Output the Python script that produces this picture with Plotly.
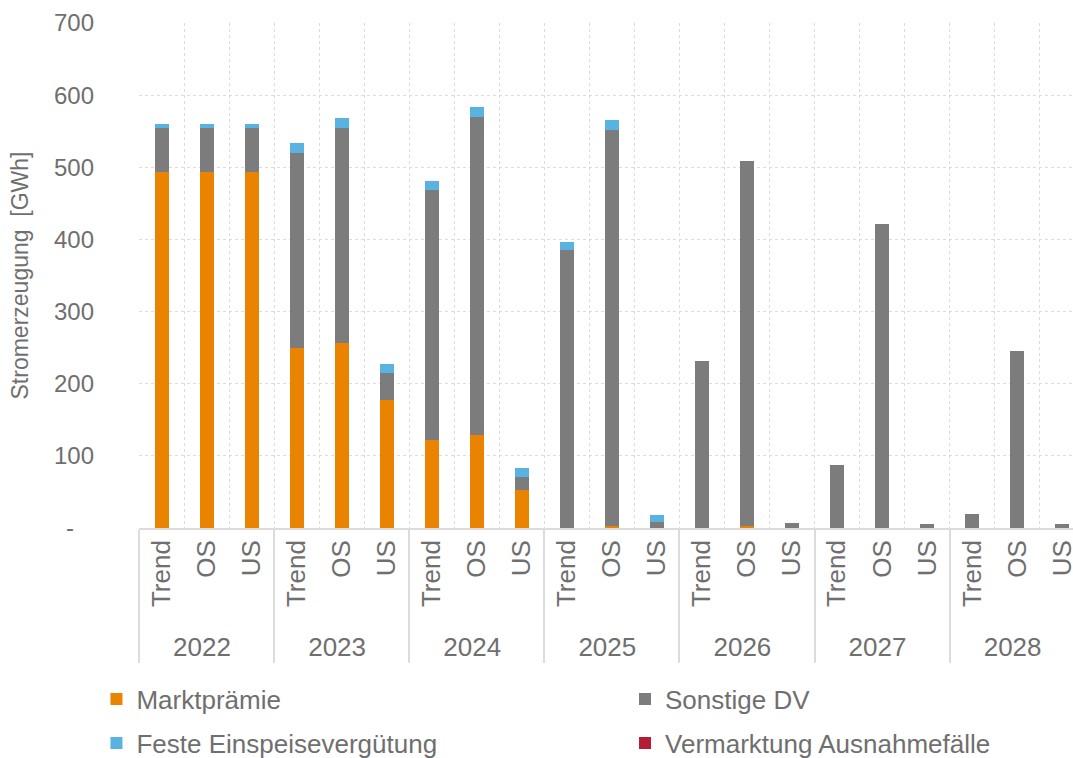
import plotly.graph_objects as go

# Categories: year groups and scenarios
years = ["2022", "2023", "2024", "2025", "2026", "2027", "2028"]
scenarios = ["Trend", "OS", "US"]

# Electricity generation by marketing form [GWh], order: Trend, OS, US per year
marktpraemie = [494, 494, 494, 250, 257, 178, 122, 129, 53, 0, 3, 0, 0, 3, 0, 0, 0, 0, 0, 0, 0]
sonstige_dv = [60, 60, 60, 270, 297, 37, 347, 441, 18, 386, 549, 9, 232, 506, 6.5, 88, 421, 5, 19, 246, 5]
feste_einspeise = [6, 6, 6, 13, 14, 12, 12, 14, 12, 11, 13, 9, 0, 0, 0, 0, 0, 0, 0, 0, 0]
vermarktung_ausnahme = [0] * 21

# Y axis ticks
y_ticks = [0, 100, 200, 300, 400, 500, 600, 700]
y_ticktext = ["-\u00a0\u00a0\u00a0", "100", "200", "300", "400", "500", "600", "700"]

x_years = [y for y in years for _ in scenarios]
x_scen = [s for _ in years for s in scenarios]
x_cat = [x_years, x_scen]

FONT = "Liberation Sans, Arial, sans-serif"
TXT = "#6f6f6f"
GRID = "#dcdcdc"

# name, values, colour, legend id, legend position (x, y in container fractions)
series = [
    ("Marktprämie", marktpraemie, "#e98300", "legend", (0.0899, 1 - 699 / 758)),
    ("Sonstige DV", sonstige_dv, "#7b7c7b", "legend2", (0.5825, 1 - 699 / 758)),
    ("Feste Einspeisevergütung", feste_einspeise, "#58b3e0", "legend3", (0.0899, 1 - 743 / 758)),
    ("Vermarktung Ausnahmefälle", vermarktung_ausnahme, "#b51d36", "legend4", (0.5825, 1 - 743 / 758)),
]

fig = go.Figure()
legends = {}
# Stack order: Marktprämie at bottom, then Sonstige DV, Feste Einspeisevergütung, Vermarktung
for name, vals, color, lg, (lx, ly) in series:
    fig.add_trace(go.Bar(
        x=x_cat, y=vals, name=name, marker_color=color,
        marker_line_width=0, legend=lg,
    ))
    legends[lg] = dict(
        orientation="h", xref="container", yref="container",
        x=lx, y=ly, xanchor="left", yanchor="middle",
        font=dict(size=26, color=TXT), itemclick=False,
        bgcolor="rgba(0,0,0,0)",
    )

fig.update_layout(
    width=1073, height=758,
    barmode="stack", bargap=0.69,
    plot_bgcolor="white", paper_bgcolor="white",
    margin=dict(l=139, r=0, t=23, b=230),
    font=dict(family=FONT, size=24, color=TXT),
    showlegend=True,
    **legends,
)

fig.update_yaxes(
    range=[0, 700], tickvals=y_ticks, ticktext=y_ticktext,
    showgrid=True, gridcolor=GRID, griddash="dot", gridwidth=1.2,
    zeroline=False, showline=False, ticks="",
    ticklabelstandoff=44,
    tickfont=dict(size=24, color=TXT),
    title=dict(text="Stromerzeugung\u00a0\u00a0[GWh]", font=dict(size=23, color=TXT), standoff=18),
)

fig.update_xaxes(
    type="multicategory", range=[-0.5, 20.24],
    tickson="boundaries", showgrid=True, gridcolor=GRID, griddash="dot", gridwidth=1.2,
    showline=True, linecolor=GRID, linewidth=1.5,
    showdividers=True, dividercolor=GRID, dividerwidth=1.5,
    ticks="", tickangle=-90,
    tickfont=dict(size=26, color=TXT),
)

fig.write_html("out.html")
